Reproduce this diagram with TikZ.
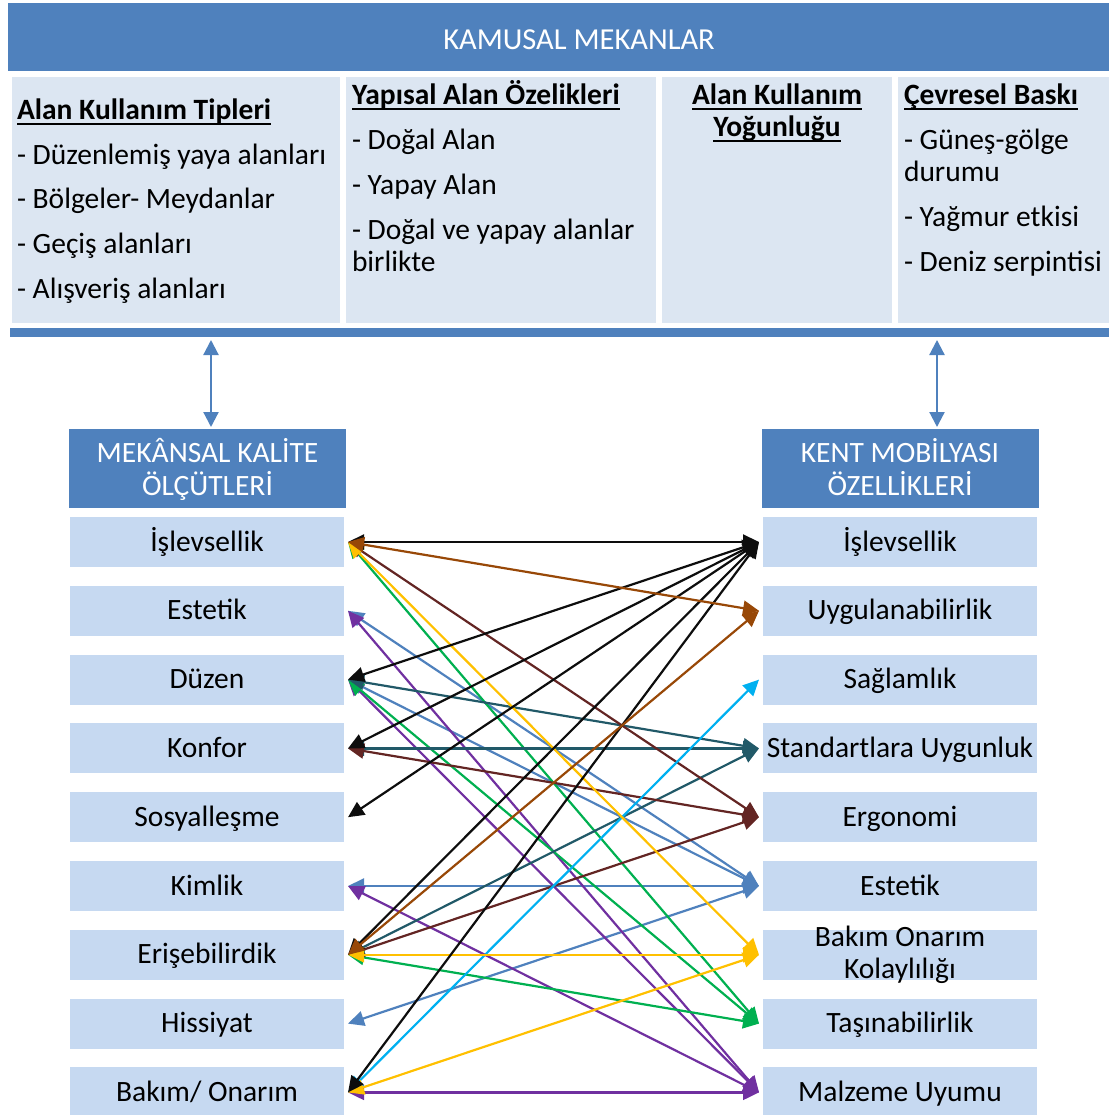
\documentclass[tikz,border=0pt]{standalone}
\usepackage{fontspec}
\setmainfont{Carlito}
\usetikzlibrary{arrows.meta}
\definecolor{hblue}{HTML}{4F81BD}
\definecolor{topfill}{HTML}{DCE6F2}
\definecolor{rowfill}{HTML}{C6D9F1}
\definecolor{cBrown}{HTML}{984807}
\definecolor{cMaroon}{HTML}{632523}
\definecolor{cTeal}{HTML}{215968}
\definecolor{cBlue}{HTML}{4F81BD}
\definecolor{cPurple}{HTML}{7030A0}
\definecolor{cGreen}{HTML}{00B050}
\definecolor{cYellow}{HTML}{FFC000}
\definecolor{cCyan}{HTML}{00B0F0}
\definecolor{cBlack}{HTML}{0D0D0D}
\newsavebox\ulbox
\newcommand\hul[1]{\sbox\ulbox{#1}\rlap{\rule[-5.5pt]{\wd\ulbox}{1.9pt}}\usebox\ulbox}
\begin{document}
\begin{tikzpicture}[x=1pt,y=-1pt,
  every node/.style={inner sep=0pt, outer sep=0pt},
  body/.style={font=\fontsize{29.5}{34}\selectfont, text=black},
  panel/.style={fill=topfill, anchor=north west, minimum height=246pt},
  rowbox/.style={fill=rowfill, minimum width=274pt, minimum height=50pt, outer sep=4pt,
     font=\fontsize{29.5}{34}\selectfont, text height=22pt, text depth=4pt},
  hdrbox/.style={fill=hblue, minimum width=277pt, minimum height=79pt},
  hdrtext/.style={font=\fontsize{29.5}{34}\selectfont, text=white, anchor=base},
  link/.style={draw=#1, line width=2.2pt, {Triangle[length=16pt,width=15pt]}-{Triangle[length=16pt,width=15pt]}},
  varrow/.style={draw=hblue, line width=2.2pt, {Triangle[length=15pt,width=15pt]}-{Triangle[length=15pt,width=15pt]}}
]
\useasboundingbox (0,0) rectangle (1109,1115);

% banner
\node[fill=hblue, anchor=north west, minimum width=1101pt, minimum height=68pt] (banner) at (8,3) {};
\node[font=\fontsize{30.5}{36}\selectfont, text=white, anchor=base] (bannertext) at (579,50) {KAMUSAL MEKANLAR};

% top panels
\node[panel, minimum width=328pt] (p1) at (12,77) {};
\node[panel, minimum width=310pt] (p2) at (346,77) {};
\node[panel, minimum width=230pt] (p3) at (662,77) {};
\node[panel, minimum width=211pt] (p4) at (898,77) {};
\node[fill=hblue, anchor=north west, minimum width=1099pt, minimum height=9pt] (bar) at (10,328) {};

% panel 1 text
\node[body, anchor=base west] (p1h) at (17,119.5) {\bfseries\hul{Alan Kullanım Tipleri}};
\node[body, anchor=base west] (p1a) at (17,164.5) {- Düzenlemiş yaya alanları};
\node[body, anchor=base west] (p1b) at (17,209) {- Bölgeler- Meydanlar};
\node[body, anchor=base west] (p1c) at (17,253.5) {- Geçiş alanları};
\node[body, anchor=base west] (p1d) at (17,298) {- Alışveriş alanları};
% panel 2 text
\node[body, anchor=base west] (p2h) at (352,104.5) {\bfseries\hul{Yapısal Alan Özelikleri}};
\node[body, anchor=base west] (p2a) at (352,149.5) {- Doğal Alan};
\node[body, anchor=base west] (p2b) at (352,194.5) {- Yapay Alan};
\node[body, anchor=base west] (p2c) at (352,239.5) {- Doğal ve yapay alanlar};
\node[body, anchor=base west] (p2d) at (352,271.5) {birlikte};
% panel 3 text
\node[body, anchor=base] (p3h) at (777,104.5) {\bfseries\hul{Alan Kullanım}};
\node[body, anchor=base] (p3i) at (777,136.5) {\bfseries\hul{Yoğunluğu}};
% panel 4 text
\node[body, anchor=base west] (p4h) at (904,104.5) {\bfseries\hul{Çevresel Baskı}};
\node[body, anchor=base west] (p4a) at (904,149.5) {- Güneş-gölge};
\node[body, anchor=base west] (p4b) at (904,181.5) {durumu};
\node[body, anchor=base west] (p4c) at (904,226.5) {- Yağmur etkisi};
\node[body, anchor=base west] (p4d) at (904,271.5) {- Deniz serpintisi};

% column headers
\node[hdrbox] (LH) at (207.5,468.5) {};
\node[hdrtext] (LHa) at (207.5,462) {MEKÂNSAL KALİTE};
\node[hdrtext] (LHb) at (207.5,495) {ÖLÇÜTLERİ};
\node[hdrbox] (RH) at (900,468.5) {};
\node[hdrtext] (RHa) at (900,462) {KENT MOBİLYASI};
\node[hdrtext] (RHb) at (900,495) {ÖZELLİKLERİ};

% vertical arrows
\draw[varrow] ([xshift=3.5pt,yshift=-3pt]bar.south -| LH.north) -- ([xshift=3.5pt,yshift=2pt]LH.north);
\draw[varrow] ([xshift=37pt,yshift=-3pt]bar.south -| RH.north) -- ([xshift=37pt,yshift=2pt]RH.north);

% left column
\node[rowbox] (L1) at (207,542) {İşlevsellik};
\node[rowbox] (L2) at (207,610.8) {Estetik};
\node[rowbox] (L3) at (207,679.6) {Düzen};
\node[rowbox] (L4) at (207,748.4) {Konfor};
\node[rowbox] (L5) at (207,817.2) {Sosyalleşme};
\node[rowbox] (L6) at (207,886) {Kimlik};
\node[rowbox] (L7) at (207,954.8) {Erişebilirdik};
\node[rowbox] (L8) at (207,1023.6) {Hissiyat};
\node[rowbox] (L9) at (207,1092.4) {Bakım/ Onarım};

% right column
\node[rowbox] (R1) at (900,542) {İşlevsellik};
\node[rowbox] (R2) at (900,610.8) {Uygulanabilirlik};
\node[rowbox] (R3) at (900,679.6) {Sağlamlık};
\node[rowbox] (R4) at (900,748.4) {Standartlara Uygunluk};
\node[rowbox] (R5) at (900,817.2) {Ergonomi};
\node[rowbox] (R6) at (900,886) {Estetik};
\node[rowbox] (R7) at (900,954.8) {};
\node[body, anchor=base] (R7a) at (900,946.8) {Bakım Onarım};
\node[body, anchor=base] (R7b) at (900,978.8) {Kolaylılığı};
\node[rowbox] (R8) at (900,1023.6) {Taşınabilirlik};
\node[rowbox] (R9) at (900,1092.4) {Malzeme Uyumu};

% links
\draw[link=cBlue] (L2.east) -- (R6.west);
\draw[link=cBlue] (L3.east) -- (R6.west);
\draw[link=cBlue] (L6.east) -- (R6.west);
\draw[link=cBlue] (L8.east) -- (R6.west);
\draw[link=cPurple] (L2.east) -- (R9.west);
\draw[link=cPurple] (L3.east) -- (R9.west);
\draw[link=cPurple] (L6.east) -- (R9.west);
\draw[link=cPurple] (L9.east) -- (R9.west);
\draw[link=cGreen] (L1.east) -- (R8.west);
\draw[link=cGreen] (L3.east) -- (R8.west);
\draw[link=cGreen] (L7.east) -- (R8.west);
\draw[link=cTeal] (L3.east) -- (R4.west);
\draw[link=cTeal] (L4.east) -- (R4.west);
\draw[link=cTeal] (L7.east) -- (R4.west);
\draw[link=cMaroon] (L1.east) -- (R5.west);
\draw[link=cMaroon] (L4.east) -- (R5.west);
\draw[link=cMaroon] (L7.east) -- (R5.west);
\draw[link=cCyan] (L9.east) -- (R3.west);
\draw[link=cYellow] (L1.east) -- (R7.west);
\draw[link=cYellow] (L7.east) -- (R7.west);
\draw[link=cYellow] (L9.east) -- (R7.west);
\draw[link=cBlack] (L1.east) -- (R1.west);
\draw[link=cBlack] (L3.east) -- (R1.west);
\draw[link=cBlack] (L4.east) -- (R1.west);
\draw[link=cBlack] (L5.east) -- (R1.west);
\draw[link=cBlack] (L7.east) -- (R1.west);
\draw[link=cBlack] (L9.east) -- (R1.west);
\draw[link=cBrown] (L1.east) -- (R2.west);
\draw[link=cBrown] (L7.east) -- (R2.west);
\end{tikzpicture}
\end{document}
